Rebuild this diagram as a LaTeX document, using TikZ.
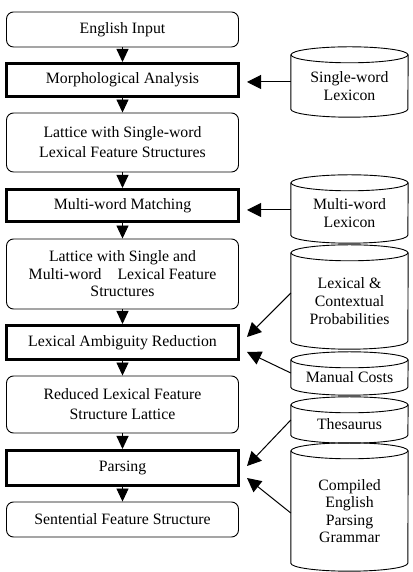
\documentclass[tikz,border=0pt]{standalone}
\usepackage{fontspec}
\setmainfont{Liberation Serif}
\usetikzlibrary{arrows.meta}

\tikzset{
  txt/.style={font=\fontsize{15.8}{17.6}\selectfont, align=center, inner sep=0pt},
  stage/.style={txt, draw, line width=0.9pt, rounded corners=7pt, minimum width=232pt},
  process/.style={txt, draw, line width=3pt, minimum width=232pt},
  store/.style={txt, minimum width=117pt},
  flow/.style={line width=0.9pt, -{Triangle[length=13pt,width=12pt]}},
  feed/.style={line width=1pt, -{Triangle[length=14pt,width=14pt]}}
}

\begin{document}
\begin{tikzpicture}[x=1pt, y=1pt]
\useasboundingbox (0,0) rectangle (412,572);
\node (input) at (122.5,542.5) [stage, minimum height=35pt] {English Input};
\node (morph) at (122.5,492) [process, minimum height=33pt] {Morphological Analysis};
\node (swlat) at (122.5,429.5) [stage, minimum height=59pt] {Lattice with Single-word\\[2.5pt] Lexical Feature Structures};
\node (mwm) at (122.5,366.5) [process, minimum height=32pt] {Multi-word Matching};
\node (mwlat) at (122.5,298) [stage, minimum height=70pt] {Lattice with Single and\\ Multi-word\hspace*{16pt}Lexical Feature\\ Structures};
\node (lar) at (122.5,229.5) [process, minimum height=34pt] {Lexical Ambiguity Reduction};
\node (redlat) at (122.5,167.5) [stage, minimum height=57pt] {Reduced Lexical Feature\\[2.5pt] Structure Lattice};
\node (parse) at (122.5,104) [process, minimum height=35pt] {Parsing};
\node (sfs) at (122.5,52.5) [stage, minimum height=35pt] {Sentential Feature Structure};
\node (swlex) at (349.5,486) [store, minimum height=62pt] {Single-word\\ Lexicon};
\node (mwlex) at (349.5,359) [store, minimum height=60pt] {Multi-word\\ Lexicon};
\node (prob) at (349.5,271) [store, minimum height=96pt] {Lexical \&\\ Contextual\\ Probabilities};
\node (cost) at (349.5,194.5) [store, minimum height=35pt] {Manual Costs};
\node (thes) at (349.5,148) [store, minimum height=38pt] {Thesaurus};
\node (gram) at (349.5,61) [store, minimum height=120pt] {Compiled\\ English\\ Parsing\\ Grammar};
\foreach \n in {swlex,mwlex,prob,cost,thes,gram} {
  \draw [line width=0.9pt] (\n.north) ellipse [x radius=58.5pt, y radius=8pt];
  \draw [line width=0.9pt] (\n.north west) -- ([yshift=8pt]\n.south west)
    arc [start angle=180, end angle=360, x radius=58.5pt, y radius=8pt] -- (\n.north east);
}
\draw [flow] (input) -- (morph);
\draw [flow] (morph) -- (swlat);
\draw [flow] (swlat) -- (mwm);
\draw [flow] (mwm) -- (mwlat);
\draw [flow] (mwlat) -- (lar);
\draw [flow] (lar) -- (redlat);
\draw [flow] (redlat) -- (parse);
\draw [flow] (parse) -- (sfs);
\draw [feed] ([yshift=4pt]swlex.west) -- ([xshift=7pt,yshift=-2pt]morph.east);
\draw [feed] ([yshift=3pt]mwlex.west) -- ([xshift=7pt,yshift=-4.5pt]mwm.east);
\draw [feed] ([yshift=8pt]prob.west) -- ([xshift=7pt,yshift=5.5pt]lar.east);
\draw [feed] ([yshift=4.5pt]cost.west) -- ([xshift=7pt,yshift=-9.5pt]lar.east);
\draw [feed] ([yshift=4pt]thes.west) -- ([xshift=7pt,yshift=2pt]parse.east);
\draw [feed] ([yshift=-2pt]gram.west) -- ([xshift=7pt,yshift=-10pt]parse.east);
\end{tikzpicture}
\end{document}
